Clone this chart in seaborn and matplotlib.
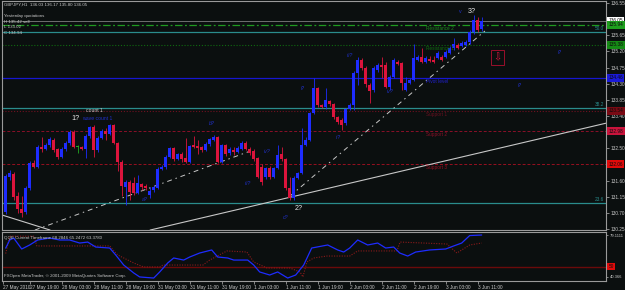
import numpy as np
import pandas as pd
import matplotlib
matplotlib.use("Agg")
import matplotlib.pyplot as plt
import seaborn as sns
from matplotlib.transforms import blended_transform_factory as btf

# ---------------- data ----------------
opens = [130.72, 131.70, 131.78, 131.17, 130.81, 130.72, 131.39, 132.09, 131.98, 132.54,
         132.48, 132.59, 132.73, 132.48, 132.26, 132.48, 132.65, 132.95, 132.54, 132.54,
         132.48, 132.84, 133.09, 132.45, 132.79, 132.98, 132.90, 133.15, 132.65, 132.12,
         131.42, 131.56, 131.53, 131.25, 131.50, 131.45, 131.20, 131.34, 131.39, 131.92,
         131.98, 132.26, 132.51, 132.20, 132.34, 132.23, 132.12, 132.59, 132.56, 132.54,
         132.45, 132.62, 132.73, 132.81, 132.12, 132.59, 132.37, 132.45, 132.40, 132.48,
         132.65, 132.48, 132.42, 132.23, 131.98, 131.70, 131.95, 131.70, 131.95, 132.34,
         132.20, 131.39, 131.11, 131.67, 131.81, 132.59, 132.73, 133.48, 134.18, 133.71,
         133.65, 133.82, 133.73, 133.37, 133.29, 133.20, 133.60, 133.71, 134.60, 134.96,
         134.74, 134.26, 134.12, 134.68, 134.82, 134.82, 134.21, 134.49, 134.91, 134.88,
         134.12, 134.32, 134.40, 134.96, 135.04, 134.91, 134.99, 134.96, 135.02, 135.04,
         135.04, 135.15, 135.30, 135.38, 135.35, 135.38, 135.46, 135.74, 136.08, 135.82]
highs = [131.78, 131.89, 131.84, 131.28, 131.17, 131.45, 132.15, 132.17, 132.59, 132.81,
         132.65, 132.81, 132.79, 132.51, 132.54, 132.70, 133.01, 133.01, 132.59, 132.56,
         132.90, 133.12, 133.15, 132.84, 133.04, 133.06, 133.18, 133.18, 132.68, 132.17,
         131.62, 131.62, 131.70, 131.76, 131.53, 131.50, 131.42, 131.48, 131.98, 132.03,
         132.31, 132.54, 132.54, 132.37, 132.40, 132.79, 132.59, 132.84, 132.73, 132.56,
         132.68, 132.79, 132.87, 132.84, 132.62, 132.62, 132.54, 132.54, 132.56, 132.70,
         132.70, 132.54, 132.48, 132.26, 132.06, 131.98, 132.01, 131.98, 132.59, 132.54,
         132.23, 131.70, 131.73, 131.84, 133.06, 132.81, 133.51, 134.46, 134.21, 133.73,
         134.18, 133.85, 133.76, 133.40, 133.34, 133.62, 133.76, 134.65, 135.04, 135.02,
         134.79, 134.32, 134.79, 134.88, 135.04, 134.91, 134.54, 135.02, 134.96, 134.91,
         134.49, 134.46, 135.42, 135.10, 135.30, 135.07, 135.07, 135.07, 135.21, 135.10,
         135.24, 135.35, 135.57, 135.43, 135.48, 135.52, 135.80, 136.22, 136.16, 136.17]
lows = [130.66, 131.62, 131.06, 130.70, 130.58, 130.66, 131.34, 131.95, 131.95, 132.40,
        132.45, 132.54, 132.40, 132.20, 132.23, 132.42, 132.59, 132.51, 132.37, 132.45,
        132.23, 132.79, 132.26, 132.40, 132.76, 132.73, 132.87, 132.62, 131.87, 131.17,
        130.92, 131.06, 131.20, 131.22, 131.34, 131.34, 131.11, 131.28, 131.36, 131.89,
        131.92, 132.23, 132.15, 132.17, 132.12, 132.09, 132.09, 132.51, 132.34, 132.40,
        132.42, 132.56, 132.70, 132.09, 132.09, 132.28, 132.31, 132.31, 132.37, 132.45,
        132.45, 132.31, 132.15, 131.67, 131.48, 131.64, 131.64, 131.67, 131.92, 132.15,
        131.34, 131.06, 131.06, 131.64, 131.78, 132.56, 132.70, 133.46, 133.65, 133.62,
        133.60, 133.68, 133.32, 133.18, 133.02, 133.15, 133.57, 133.57, 134.26, 134.68,
        134.21, 133.76, 134.07, 134.63, 134.46, 134.18, 134.12, 134.46, 134.82, 134.12,
        134.10, 134.29, 134.37, 134.93, 134.88, 134.88, 134.90, 134.88, 134.99, 134.93,
        135.01, 135.12, 135.24, 135.26, 135.32, 135.35, 135.40, 135.69, 135.74, 135.78]
closes = [131.73, 131.81, 131.14, 130.81, 130.70, 131.39, 132.09, 131.98, 132.54, 132.48,
          132.59, 132.76, 132.45, 132.26, 132.48, 132.65, 132.95, 132.54, 132.54, 132.48,
          132.84, 133.09, 132.45, 132.79, 132.98, 132.90, 133.15, 132.65, 132.12, 131.45,
          131.56, 131.28, 131.25, 131.53, 131.42, 131.39, 131.31, 131.42, 131.92, 131.98,
          132.26, 132.51, 132.20, 132.34, 132.20, 132.12, 132.56, 132.54, 132.51, 132.45,
          132.62, 132.76, 132.81, 132.12, 132.59, 132.34, 132.48, 132.40, 132.51, 132.65,
          132.48, 132.37, 132.20, 131.70, 131.56, 131.95, 131.70, 131.95, 132.31, 132.20,
          131.39, 131.11, 131.67, 131.81, 132.59, 132.73, 133.48, 134.18, 133.71, 133.65,
          133.85, 133.73, 133.37, 133.23, 133.15, 133.60, 133.71, 134.60, 134.96, 134.74,
          134.29, 134.10, 134.74, 134.82, 134.77, 134.21, 134.49, 134.96, 134.85, 134.32,
          134.32, 134.40, 135.02, 135.04, 134.91, 135.02, 134.94, 134.91, 135.15, 134.96,
          135.18, 135.30, 135.41, 135.30, 135.43, 135.46, 135.74, 136.08, 135.80, 136.05]

# price-axis ticks (labels hidden behind the level boxes are left blank, as in the picture)
price_ticks = [136.55, 136.10, 135.65, 135.20, 134.75, 134.30, 133.85, 133.40,
               132.95, 132.50, 132.05, 131.60, 131.15, 130.70, 130.25]
price_tick_labels = ["136.55", "", "135.65", "135.20", "134.75", "134.30", "133.85", "133.40",
                     "", "132.50", "", "131.60", "131.15", "130.70", "130.25"]
# time-axis labels (bar index of each tick)
time_tick_bars = [-0.6, 6, 14, 22, 30, 38, 46, 54, 62, 70, 78, 86, 94, 102, 110, 118]
time_tick_labels = ["27 May 2010", "27 May 19:00", "28 May 03:00", "28 May 11:00", "28 May 19:00",
                    "31 May 03:00", "31 May 11:00", "31 May 19:00", "1 Jun 03:00", "1 Jun 11:00",
                    "1 Jun 19:00", "2 Jun 03:00", "2 Jun 11:00", "2 Jun 19:00", "3 Jun 03:00",
                    "3 Jun 11:00"]

# pivot levels (Fibonacci pivots from yesterday H 135.42 / L 133.02 / C 134.94)
level_names = ["Resistance 2", "Resistance 1", "Pivot level", "Support 1", "Support 2", "Support 3"]
level_prices = [135.94, 135.38, 134.46, 133.54, 132.98, 132.06]
level_box_labels = ["135.94", "135.38", "134.46", "133.54", "132.98", "132.06"]
# fibonacci retracement levels
fib_names = ["50.0", "38.2", "23.6"]
fib_prices = [135.74, 133.62, 130.97]
bid_price = 136.05

# trend lines: (bar index, price) end points
trend_solid_a_bars, trend_solid_a_prices = [36.1, 150.1], [130.22, 133.20]
trend_solid_b_bars, trend_solid_b_prices = [-0.93, 11.1], [130.64, 130.22]
trend_dd_a_bars, trend_dd_a_prices = [7.3, 60.6], [130.22, 132.40]
trend_dd_b_bars, trend_dd_b_prices = [71.1, 119.8], [131.17, 135.77]

# wave labels
wave_texts = ["a?", "b?", "iii?", "iv?", "c?", "i?", "ii?", "iii?", "iv?", "i?", "i?"]
wave_bars = [34.8, 51.6, 60.6, 65.3, 70.0, 74.3, 83.1, 86.1, 96.1, 128.6, 138.6]
wave_prices = [131.06, 133.20, 131.53, 132.40, 130.56, 134.18, 132.81, 135.10, 134.07, 134.26, 135.16]
big_texts = ["1?", "2?", "3?"]
big_bars = [17.4, 73.2, 116.6]
big_prices = [133.32, 130.81, 136.30]

# QQE indicator
qqe_fast_bars = [0, 1, 2, 4, 6, 8, 11, 13.5, 16, 18.5, 20.5, 22.5, 26, 27.5, 29.5, 32, 33.5, 37,
                 38.5, 40.5, 42, 44.5, 46, 48.5, 51.5, 53, 55.5, 57, 60.5, 62, 63.5, 66, 68, 70.5,
                 72.5, 74.5, 76.5, 80.5, 83, 84.5, 86, 88, 90.5, 93, 95, 97, 98.5, 100.5, 102.5,
                 106, 110, 112, 114, 116, 119]
qqe_fast = [67, 74.5, 76.3, 66.2, 69.9, 74.5, 76.3, 74.5, 74.5, 71.7, 72.6, 68.0, 67.1, 60.7,
            51.4, 44.1, 40.4, 39.4, 45.0, 53.3, 57.9, 56.0, 58.8, 62.5, 65.3, 58.8, 57.9, 56.0,
            56.0, 51.4, 45.0, 42.2, 45.0, 39.4, 42.2, 51.4, 67.1, 69.9, 65.3, 63.4, 67.1, 74.5,
            69.9, 71.7, 67.1, 68.0, 62.5, 59.7, 63.4, 65.3, 66.2, 69.0, 71.7, 78.6, 79.1]
qqe_slow_bars = [0, 1, 7, 7.8, 26, 28, 32, 34.5, 38.5, 39.3, 49.3, 51, 55.3, 60.3, 62, 65.3, 71,
                 73.6, 74.3, 75.3, 77, 80.3, 86, 88, 97.8, 98.6, 110.3, 112.8, 116, 119]
qqe_slow = [62, 78, 78, 69, 69, 60.7, 53.3, 49.6, 49.6, 51.4, 51.4, 56.0, 64.4, 63.4, 54.2, 48.7,
            48.7, 45.0, 40.4, 54.2, 57.9, 59.7, 59.7, 64.4, 64.4, 72.6, 70.8, 62.5, 69.9, 71.7]
qqe_level = 50

# ---------------- styling ----------------
sns.set_theme(style="dark")
plt.rcParams['font.family'] = ['Liberation Sans', 'DejaVu Sans']
BG = '#0b0f0f'
FG = '#c8c8c8'
FRAME = '#9a9a9a'
BLUE = '#1e2cff'
RED = '#dc143c'
DOJI = '#22aa22'
TEAL = '#2a8c8c'
FS = 3.4

W, H = 625, 290
def rect(l, t, r, b):
    return [l / W, (H - b) / H, (r - l) / W, (b - t) / H]

fig = plt.figure(figsize=(6.25, 2.9), dpi=100, facecolor=BG)
ax = fig.add_axes(rect(2, 1, 606, 230))
axq = fig.add_axes(rect(2, 232, 606, 281))

def px2price(y):
    return 136.55 - (y - 3) / 35.87

for a in (ax, axq):
    a.set_facecolor(BG)
    a.grid(False)
    for s in a.spines.values():
        s.set_color(FRAME)
        s.set_linewidth(0.8)
    a.set_xlim((2 - 5.7) / 4, (606 - 5.7) / 4)

ax.set_ylim(px2price(230), px2price(1))
axq.set_ylim(36.67, 81.88)

# ---------------- candles ----------------
df = pd.DataFrame({"o": opens, "h": highs, "l": lows, "c": closes})
df["i"] = np.arange(len(df))
df["col"] = np.where(df.c > df.o, BLUE, np.where(df.c < df.o, RED, DOJI))
ax.vlines(df.i, df.l, df.h, colors=df.col, lw=0.6, zorder=3)
body_bottom = np.minimum(df.o, df.c)
body_h = np.maximum((df.c - df.o).abs(), 0.025)
ax.bar(df.i, body_h, bottom=body_bottom, width=0.74, color=df.col, linewidth=0, zorder=4)

# ---------------- horizontal levels ----------------
ax.axhline(bid_price, color='#6e6e6e', lw=0.7, zorder=1)
level_styles = [dict(color='#1f9a1f', ls=(0, (6, 2, 1.5, 2)), lw=0.9),
                dict(color='#0f6a0f', ls=(0, (1, 1.6)), lw=0.8),
                dict(color='#1616d0', ls='-', lw=0.9),
                dict(color='#701020', ls=(0, (1, 1.6)), lw=0.8),
                dict(color='#8a1028', ls=(0, (3, 2)), lw=0.7),
                dict(color='#981020', ls=(0, (3, 2)), lw=0.7)]
level_text_colors = ['#1f8a1f', '#0f6a0f', '#2020d0', '#6a1020', '#8a1028', '#981020']
for name, p, st, tc in zip(level_names, level_prices, level_styles, level_text_colors):
    ax.axhline(p, zorder=1, **st)
    ax.text(105.1, p - 0.04, name, color=tc, fontsize=FS, ha='left', va='top', zorder=5)
for name, p in zip(fib_names, fib_prices):
    ax.axhline(p, color=TEAL, lw=0.9, zorder=1)
    ax.text(0.997, p + 0.03, name, color=TEAL, fontsize=FS, ha='right', va='bottom',
            transform=btf(ax.transAxes, ax.transData))

# ---------------- trend lines ----------------
wline = '#c8c8c8'
sns.lineplot(x=trend_solid_a_bars, y=trend_solid_a_prices, ax=ax, color=wline, lw=0.8)
sns.lineplot(x=trend_solid_b_bars, y=trend_solid_b_prices, ax=ax, color=wline, lw=0.8)
sns.lineplot(x=trend_dd_a_bars, y=trend_dd_a_prices, ax=ax, color=wline, lw=0.7,
             linestyle=(0, (5, 4, 1.5, 4)))
sns.lineplot(x=trend_dd_b_bars, y=trend_dd_b_prices, ax=ax, color=wline, lw=0.7,
             linestyle=(0, (5, 4, 1.5, 4)))

# ---------------- annotations ----------------
for t, b, p in zip(wave_texts, wave_bars, wave_prices):
    ax.text(b, p, t, color='#2030c8', fontsize=FS + 0.4, style='italic', ha='center', va='center', zorder=6)
for t, b, p in zip(big_texts, big_bars, big_prices):
    ax.text(b, p, t, color='#e8e8e8', fontsize=5.2, ha='center', va='center', zorder=6)
ax.text(20.1, 133.54, "count 1", color=FG, fontsize=FS + 0.3, ha='left', va='center', zorder=6)
ax.text(19.0, 133.32, "wave count 1", color='#2030c8', fontsize=FS + 0.3, ha='left', va='center', zorder=6)
ax.text(115.3 - 1.2, 136.30, "v", color='#2030c8', fontsize=FS + 0.4, ha='right', va='center', zorder=6)
ax.text(123.0, 135.03, "\u21e9", color=RED, fontsize=7, ha='center', va='center',
        bbox=dict(boxstyle='square,pad=0.25', fc='none', ec='#b01030', lw=0.6), zorder=6)

# header texts
def hdr(y_px, s):
    fig.text(4 / W, 1 - y_px / H, s, color=FG, fontsize=3.2, ha='left', va='center')
hdr(5, "GBPJPY,H1  136.03 136.17 135.80 136.05")
hdr(16, "Yesterday quotations")
hdr(22, "H 135.42 sell")
hdr(27.5, "L 133.02")
hdr(33, "C 134.94")

# ---------------- price axis ----------------
ax.yaxis.tick_right()
ax.set_yticks(price_ticks)
ax.set_yticklabels(price_tick_labels)
ax.tick_params(axis='y', colors=FRAME, labelcolor=FG, labelsize=FS, length=2, width=0.6, pad=1.5,
               right=True, left=False)
ax.tick_params(axis='x', bottom=False, labelbottom=False)
ax.set_xlabel("")
ax.set_ylabel("")
boxes = [(bid_price, "136.05", '#ffffff')] + list(zip(level_prices, level_box_labels,
         ['#1e9e1e', '#158a15', '#1a1ad8', '#7a0a14', '#c8143c', '#e00a0a']))
for p, lab, c in boxes:
    ax.text(1.004, p, lab, color='#0b0b0b', fontsize=FS, ha='left', va='center',
            transform=btf(ax.transAxes, ax.transData),
            bbox=dict(boxstyle='square,pad=0.3', fc=c, ec='none'), zorder=7)

# ---------------- QQE panel ----------------
axq.axhline(qqe_level, color='#6b0a0a', lw=1.0, zorder=1)
sns.lineplot(x=qqe_slow_bars, y=qqe_slow, ax=axq, color='#8b1a1a', lw=0.8, linestyle=(0, (1, 1.3)))
sns.lineplot(x=qqe_fast_bars, y=qqe_fast, ax=axq, color=BLUE, lw=0.9)
axq.yaxis.tick_right()
axq.set_yticks([79.1111, 40.366])
axq.set_yticklabels(["79.1111", "40.366"])
axq.tick_params(axis='y', colors=FRAME, labelcolor=FG, labelsize=3.0, length=1.5, width=0.6, pad=1.0,
                right=True, left=False)
axq.text(1.004, qqe_level, "50", color='#0b0b0b', fontsize=FS, ha='left', va='center',
         transform=btf(axq.transAxes, axq.transData),
         bbox=dict(boxstyle='square,pad=0.3', fc='#e00a0a', ec='none'))
axq.set_xticks(time_tick_bars)
axq.set_xticklabels(time_tick_labels)
axq.tick_params(axis='x', colors=FRAME, labelcolor=FG, labelsize=FS, length=2, width=0.6, pad=1.0,
                bottom=True)
for lbl in axq.get_xticklabels():
    lbl.set_ha('left')
axq.set_xlabel("")
axq.set_ylabel("")
axq.text(0.004, 0.92, "QQE Current Timeframe 68.2846 65.2472 63.3780", color=FG, fontsize=3.2,
         ha='left', va='top', transform=axq.transAxes)
axq.text(0.004, 0.07, "FXOpen MetaTrader, \u00a9 2001-2009 MetaQuotes Software Corp.", color=FG,
         fontsize=3.2, ha='left', va='bottom', transform=axq.transAxes)

fig.savefig("out.png", dpi=100, facecolor=BG)
